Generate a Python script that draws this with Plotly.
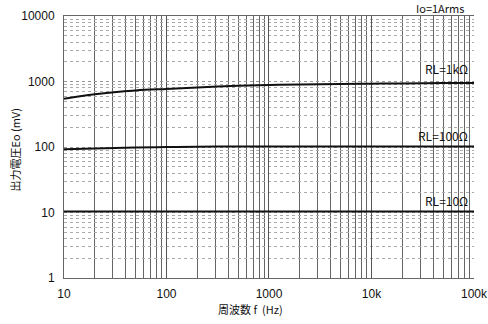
import math
import plotly.graph_objects as go

freq = [10, 20, 50, 100, 200, 500, 1000, 2000, 5000, 10000, 20000, 50000, 100000]
eo_1k = [545, 640, 730, 770, 810, 860, 885, 900, 915, 925, 935, 945, 948]
eo_100 = [92, 95, 98, 100, 101, 102, 102, 102, 102, 102, 102, 102, 102]
eo_10 = [10.4, 10.4, 10.4, 10.4, 10.4, 10.4, 10.4, 10.4, 10.4, 10.4, 10.4, 10.4, 10.4]

x_ticks = [10, 100, 1000, 10000, 100000]
x_labels = ["10", "100", "1000", "10k", "100k"]
y_ticks = [1, 10, 100, 1000, 10000]
y_labels = ["1", "10", "100", "1000", "10000"]

series_labels = ["RL=1kΩ", "RL=100Ω", "RL=10Ω"]
label_y = [1580, 150, 15.5]

font_num = "Liberation Sans, Arial, sans-serif"
font_jp = "Noto Sans CJK JP, sans-serif"

fig = go.Figure()
for ys in (eo_1k, eo_100, eo_10):
    fig.add_trace(go.Scatter(x=freq, y=ys, mode="lines", line=dict(color="#111", width=2),
                             line_shape="spline", showlegend=False))

for txt, yy in zip(series_labels, label_y):
    fig.add_annotation(x=4.96, y=math.log10(yy), xref="x", yref="y",
                       text=txt, showarrow=False, xanchor="right", yanchor="middle",
                       font=dict(family=font_jp, size=12, color="#111"))

fig.add_annotation(x=0.98, y=1.03, xref="paper", yref="paper", text="Io=1Arms",
                   showarrow=False, xanchor="right", yanchor="middle",
                   font=dict(family=font_jp, size=11, color="#111"))

fig.add_annotation(x=-0.12, y=0.49, xref="paper", yref="paper", text="出力電圧Eo (mV)",
                   textangle=-90, showarrow=False, xanchor="center", yanchor="middle",
                   font=dict(family=font_jp, size=11, color="#111"))

fig.add_annotation(x=0.455, y=-0.12, xref="paper", yref="paper", text="周波数 f  (Hz)",
                   showarrow=False, xanchor="center", yanchor="middle",
                   font=dict(family=font_jp, size=11, color="#111"))

fig.update_layout(
    width=488, height=324,
    margin=dict(l=64, r=14, t=16, b=46),
    paper_bgcolor="white", plot_bgcolor="white",
    xaxis=dict(type="log", range=[1, 5.0001], tickvals=x_ticks, ticktext=x_labels, automargin=False,
               ticklabeloverflow="allow", ticklabelstandoff=5,
               showgrid=True, gridcolor="#555", gridwidth=1.4,
               minor=dict(dtick="D1", showgrid=True, gridcolor="#666", gridwidth=1.4),
               showline=True, linecolor="#666", linewidth=1, mirror=True,
               ticks="", tickfont=dict(family=font_num, size=12, color="#111"),
               zeroline=False),
    yaxis=dict(type="log", range=[0, 4], tickvals=y_ticks, ticktext=y_labels, automargin=False,
               ticklabeloverflow="allow", ticklabelstandoff=6,
               showgrid=True, gridcolor="#999", gridwidth=1, griddash="dot",
               minor=dict(dtick="D1", showgrid=True, gridcolor="#aaa", gridwidth=1, griddash="dot"),
               showline=True, linecolor="#666", linewidth=1, mirror=False,
               ticks="", tickfont=dict(family=font_num, size=12, color="#111"),
               zeroline=False),
)

fig.write_html("out.html")
